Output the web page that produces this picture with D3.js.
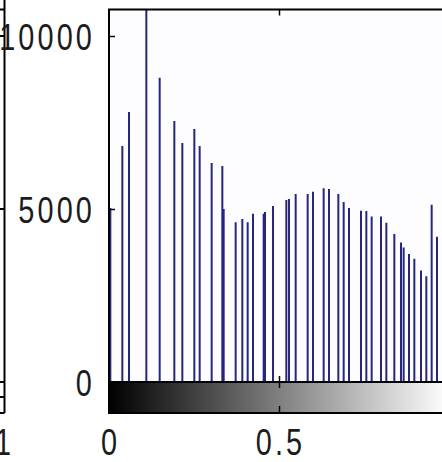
<!DOCTYPE html>
<html>
<head>
<meta charset="utf-8">
<script src="https://cdn.jsdelivr.net/npm/d3@7"></script>
<style>
  html, body { margin: 0; padding: 0; background: #ffffff; }
  svg { display: block; }
</style>
</head>
<body>
<svg id="chart" width="442" height="462"></svg>
<script>
// Grey-level histogram: intensity level (0..255) and pixel count per level
const levels = [1, 10, 15, 28, 38, 49, 55, 64, 68, 77, 85, 86, 95, 100, 104, 108,
  116, 117, 123, 133, 135, 140, 149, 153, 161, 165, 172, 176, 180, 189, 193, 197,
  204, 208, 214, 219, 221, 225, 229, 234, 238, 242, 246];
const counts = [5030, 6820, 7800, 11500, 8790, 7540, 6910, 7310, 6820, 6330, 6240, 5000,
  4620, 4710, 4620, 4860, 4860, 4910, 5090, 5260, 5290, 5430, 5430, 5500, 5600, 5580,
  5430, 5200, 5030, 4950, 4940, 4780, 4780, 4600, 4280, 4030, 3890, 3700, 3560, 3220,
  3060, 5120, 4200];

const xTicks = [0, 0.5, 1];
const xTickLabels = ["0", "0.5", "1"];
const yTicks = [0, 5000, 10000];
const yTickLabels = ["0", "5000", "10000"];
const yMax = 10766;

const svg = d3.select("#chart");
const W = 442, H = 462;

const x = d3.scaleLinear().domain([0, 1]).range([109, 449]);
const y = d3.scaleLinear().domain([0, yMax]).range([382, 9.5]);
const barTop = y(0), barBottom = 413;

// plot background
svg.append("rect")
  .attr("x", x(0)).attr("y", y(yMax))
  .attr("width", x(1) - x(0)).attr("height", y(0) - y(yMax))
  .attr("fill", "#fdfdff");

// clip for the stems
svg.append("defs").append("clipPath").attr("id", "plotClip")
  .append("rect")
  .attr("x", x(0)).attr("y", y(yMax))
  .attr("width", x(1) - x(0)).attr("height", y(0) - y(yMax));

// grey colour bar under the axis
const grad = svg.select("defs").append("linearGradient")
  .attr("id", "greyRamp")
  .attr("gradientUnits", "userSpaceOnUse")
  .attr("x1", x(0)).attr("x2", x(1)).attr("y1", 0).attr("y2", 0);
grad.append("stop").attr("offset", "0%").attr("stop-color", "#000");
grad.append("stop").attr("offset", "100%").attr("stop-color", "#fff");

svg.append("rect")
  .attr("x", x(0)).attr("y", barTop)
  .attr("width", x(1) - x(0)).attr("height", barBottom - barTop)
  .attr("fill", "url(#greyRamp)");

// stems
svg.append("g").attr("clip-path", "url(#plotClip)")
  .selectAll("line")
  .data(levels.map((l, i) => ({ v: l / 255, c: counts[i] })))
  .join("line")
  .attr("x1", d => x(d.v)).attr("x2", d => x(d.v))
  .attr("y1", y(0)).attr("y2", d => y(d.c))
  .attr("stroke", "#26267e")
  .attr("stroke-width", 2);

// axes ticks (labels drawn separately)
const tickStyle = g => {
  g.select(".domain").remove();
  g.selectAll(".tick line").attr("stroke", "#000").attr("stroke-width", 1.5);
  g.selectAll(".tick text").remove();
};
svg.append("g").attr("transform", `translate(${x(0)},0)`)
  .call(d3.axisLeft(y).tickValues(yTicks.filter(v => v > 0)).tickSize(-6)).call(tickStyle);
svg.append("g").attr("transform", `translate(${x(1)},0)`)
  .call(d3.axisRight(y).tickValues(yTicks.filter(v => v > 0)).tickSize(-6)).call(tickStyle);
svg.append("g").attr("transform", `translate(0,${y(yMax)})`)
  .call(d3.axisTop(x).tickValues([0.5]).tickSize(-6)).call(tickStyle);
svg.append("g").attr("transform", `translate(0,${y(0)})`)
  .call(d3.axisBottom(x).tickValues([0.5]).tickSize(-6)).call(tickStyle);
svg.append("g").attr("transform", `translate(0,${y(0)})`)
  .call(d3.axisBottom(x).tickValues([0.5]).tickSize(6)).call(tickStyle);
svg.append("g").attr("transform", `translate(0,${barBottom})`)
  .call(d3.axisTop(x).tickValues([0.5]).tickSize(7)).call(tickStyle);

// frame of the axes and colour bar
const frame = svg.append("g").attr("fill", "none").attr("stroke", "#000").attr("stroke-width", 2);
frame.append("rect")
  .attr("x", x(0)).attr("y", y(yMax))
  .attr("width", x(1) - x(0)).attr("height", barBottom - y(yMax));
frame.append("line")
  .attr("x1", x(0)).attr("x2", x(1)).attr("y1", y(0)).attr("y2", y(0));

// neighbouring panel's right edge
const side = svg.append("g").attr("stroke", "#000").attr("stroke-width", 2);
side.append("line").attr("x1", 4.5).attr("x2", 4.5).attr("y1", 0).attr("y2", barBottom);
[y(yMax), y(0), 397, barBottom].forEach(v =>
  side.append("line").attr("x1", 0).attr("x2", 4.5).attr("y1", v).attr("y2", v));
yTicks.filter(v => v > 0).forEach(v =>
  side.append("line").attr("x1", 0).attr("x2", 4.5).attr("y1", y(v)).attr("y2", y(v)));

// tick labels in a narrow, wide-spaced face
const fs = 37, sx = 0.78, ls = 4;
function label(str, px, py, anchor) {
  svg.append("text")
    .attr("transform", `translate(${px},${py}) scale(${sx},1)`)
    .attr("text-anchor", anchor)
    .attr("font-family", "Liberation Sans, Arial, sans-serif")
    .attr("font-size", fs)
    .attr("letter-spacing", ls)
    .attr("fill", "#1c1c1c")
    .text(str);
}
yTicks.forEach((v, i) => label(yTickLabels[i], 95, y(v) + 13.5, "end"));
// only the x labels that fall inside the view
xTicks.forEach((v, i) => { if (x(v) < W - 4) label(xTickLabels[i], x(v) + 1.5, 455, "middle"); });
// x label of the neighbouring panel
label("1", 4.5, 455, "middle");
</script>
</body>
</html>
